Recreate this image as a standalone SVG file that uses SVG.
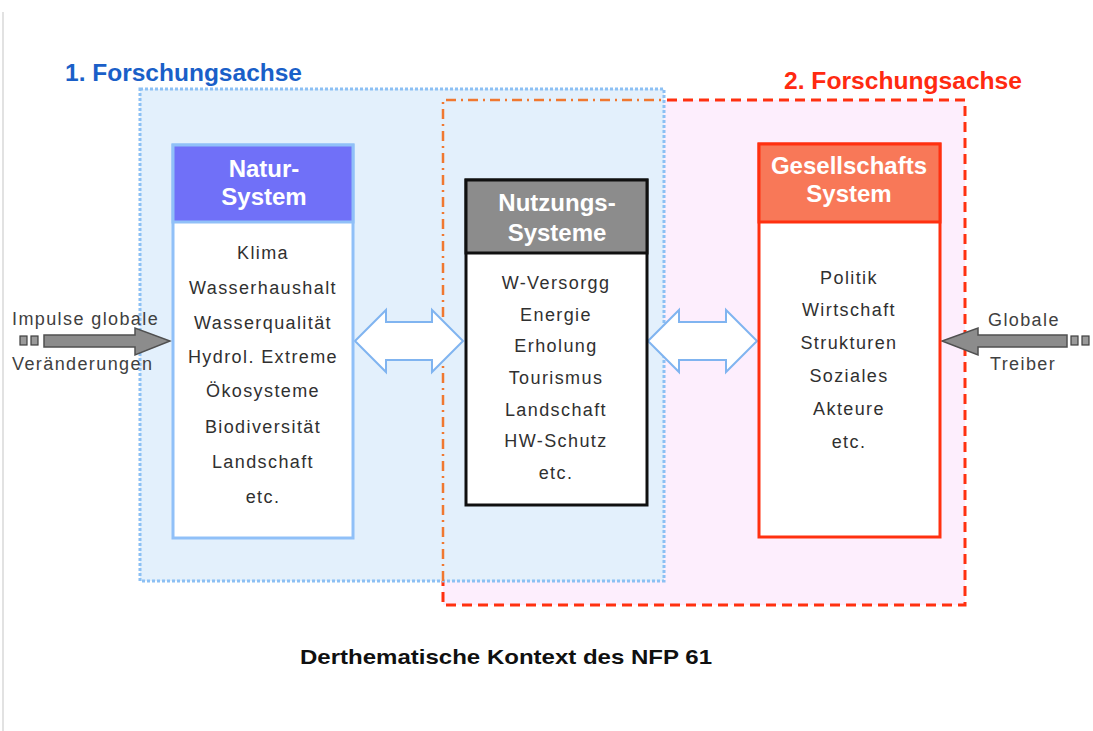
<svg xmlns="http://www.w3.org/2000/svg" width="1093" height="731" viewBox="0 0 1093 731">
<defs>
<style>
.t{font-family:"Liberation Sans",Arial,sans-serif;font-size:18px;letter-spacing:1.4px;fill:#303030;text-anchor:middle}
.h{font-family:"Liberation Sans",Arial,sans-serif;font-size:24px;font-weight:bold;fill:#ffffff;text-anchor:middle}
.lab{font-family:"Liberation Sans",Arial,sans-serif;font-size:18px;letter-spacing:1.4px;fill:#404040}
.dbl{fill:#ffffff;stroke:#80b4f0;stroke-width:2}
.gray{fill:#8c8c8c;stroke:#505050;stroke-width:1.5}
.sq{fill:#9a9a9a;stroke:#404040;stroke-width:1.2}
</style>
</defs>
<rect x="0" y="0" width="1093" height="731" fill="#ffffff"/>
<line x1="3" y1="12" x2="3" y2="731" stroke="#d8d8d8" stroke-width="1.5"/>

<g id="achse2">
<rect x="443" y="100" width="522" height="505" fill="#fdeefd" stroke="#ff3010" stroke-width="3" stroke-dasharray="10,6"/>
<text x="784" y="89" textLength="238" lengthAdjust="spacingAndGlyphs" font-family="Liberation Sans,Arial,sans-serif" font-size="23" font-weight="bold" fill="#ff2a10">2. Forschungsachse</text>
</g>
<g id="achse1">
<rect x="140" y="89" width="524" height="492" fill="#e3f0fc" stroke="#8cc0f4" stroke-width="3" stroke-dasharray="3,2"/>
<polyline points="443,581 443,100 664,100" fill="none" stroke="#f07830" stroke-width="2.5" stroke-dasharray="10,5,2,5"/>
<text x="65" y="81" textLength="237" lengthAdjust="spacingAndGlyphs" font-family="Liberation Sans,Arial,sans-serif" font-size="23" font-weight="bold" fill="#1a5fc8">1. Forschungsachse</text>
</g>

<g id="connectors">
<polygon class="dbl" points="355,341 386,310 386,322 432,322 432,310 463,341 432,372 432,360 386,360 386,372"/>
<polygon class="dbl" points="648,341 679,310 679,322 726,322 726,310 757,341 726,372 726,360 679,360 679,372"/>
<rect class="sq" x="20" y="336" width="7" height="9"/>
<rect class="sq" x="31" y="336" width="7" height="9"/>
<polygon class="gray" points="44,335 135,335 135,328 170,341 135,355 135,347 44,347"/>
<rect class="sq" x="1071" y="336" width="7" height="9"/>
<rect class="sq" x="1082" y="336" width="7" height="9"/>
<polygon class="gray" points="1067,335 978,335 978,328 942,341 978,355 978,347 1067,347"/>
<text class="lab" x="12" y="325">Impulse globale</text>
<text class="lab" x="12" y="370">Veränderungen</text>
<text class="lab" x="988" y="326">Globale</text>
<text class="lab" x="990" y="370">Treiber</text>
</g>

<g id="natur">
<rect x="173" y="145" width="180" height="393" fill="#ffffff" stroke="#90c0f8" stroke-width="3"/>
<rect x="173" y="145" width="180" height="77" fill="#7070f8" stroke="#90c0f8" stroke-width="3"/>
<text class="h" x="264" y="177">Natur-</text>
<text class="h" x="264" y="205">System</text>
<text class="t" x="263" y="259">Klima</text>
<text class="t" x="263" y="294">Wasserhaushalt</text>
<text class="t" x="263" y="329">Wasserqualität</text>
<text class="t" x="263" y="363">Hydrol. Extreme</text>
<text class="t" x="263" y="397">Ökosysteme</text>
<text class="t" x="263" y="433">Biodiversität</text>
<text class="t" x="263" y="468">Landschaft</text>
<text class="t" x="263" y="503">etc.</text>
</g>

<g id="nutzung">
<rect x="466" y="180" width="181" height="325" fill="#ffffff" stroke="#101010" stroke-width="3"/>
<rect x="466" y="180" width="181" height="73" fill="#8c8c8c" stroke="#101010" stroke-width="3"/>
<text class="h" x="557" y="211">Nutzungs-</text>
<text class="h" x="557" y="241">Systeme</text>
<text class="t" x="556" y="289">W-Versorgg</text>
<text class="t" x="556" y="321">Energie</text>
<text class="t" x="556" y="352">Erholung</text>
<text class="t" x="556" y="384">Tourismus</text>
<text class="t" x="556" y="416">Landschaft</text>
<text class="t" x="556" y="447">HW-Schutz</text>
<text class="t" x="556" y="479">etc.</text>
</g>

<g id="gesellschaft">
<rect x="759" y="144" width="181" height="393" fill="#ffffff" stroke="#ff3010" stroke-width="3"/>
<rect x="759" y="144" width="181" height="78" fill="#f87858" stroke="#ff3010" stroke-width="3"/>
<text class="h" x="849" y="174">Gesellschafts</text>
<text class="h" x="849" y="202">System</text>
<text class="t" x="849" y="284">Politik</text>
<text class="t" x="849" y="316">Wirtschaft</text>
<text class="t" x="849" y="349">Strukturen</text>
<text class="t" x="849" y="382">Soziales</text>
<text class="t" x="849" y="415">Akteure</text>
<text class="t" x="849" y="448">etc.</text>
</g>

<text x="300" y="664" textLength="412" lengthAdjust="spacingAndGlyphs" font-family="Liberation Sans,Arial,sans-serif" font-size="21" font-weight="bold" fill="#101010">Derthematische Kontext des NFP 61</text>
</svg>
